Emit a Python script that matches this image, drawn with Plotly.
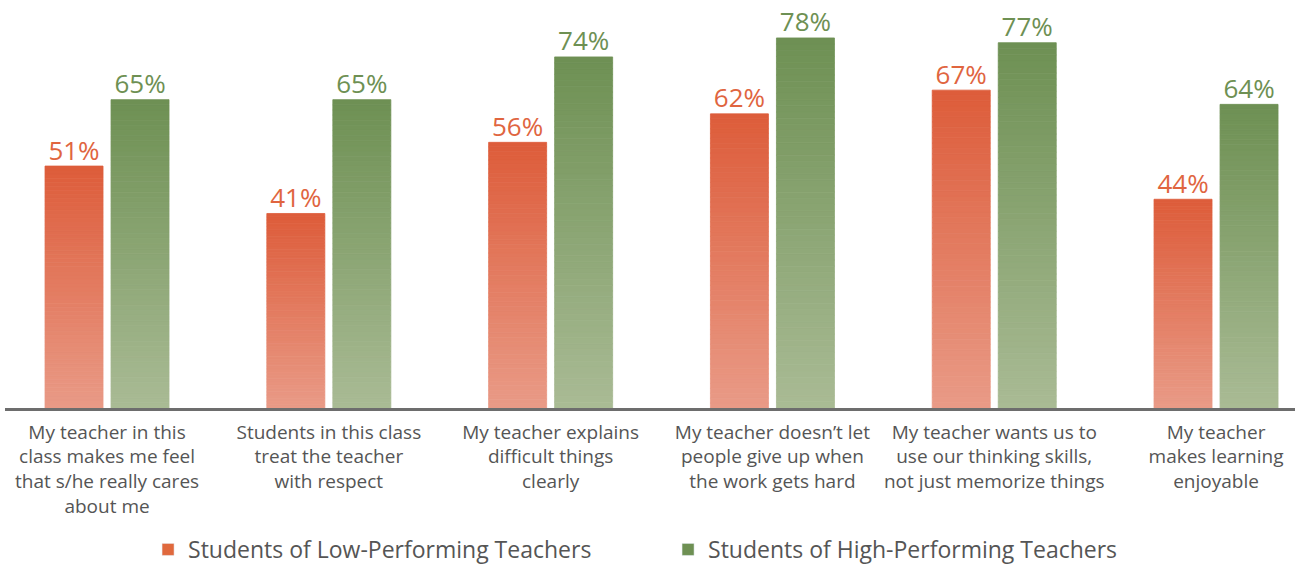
import plotly.graph_objects as go

categories = [
    "My teacher in this<br>class makes me feel<br>that s/he really cares<br>about me",
    "Students in this class<br>treat the teacher<br>with respect",
    "My teacher explains<br>difficult things<br>clearly",
    "My teacher doesn’t let<br>people give up when<br>the work gets hard",
    "My teacher wants us to<br>use our thinking skills,<br>not just memorize things",
    "My teacher<br>makes learning<br>enjoyable",
]
low_values = [51, 41, 56, 62, 67, 44]
high_values = [65, 65, 74, 78, 77, 64]
series_names = ["Students of Low-Performing Teachers", "Students of High-Performing Teachers"]

LOW_TOP, LOW_BOT = (221, 92, 58), (233, 155, 135)
HIGH_TOP, HIGH_BOT = (110, 144, 83), (169, 187, 149)
LOW_LABEL, HIGH_LABEL = "#E0653F", "#6E9053"
FONT = "Open Sans"

N_SEG = 60
xs = list(range(len(categories)))
BAR_W = 0.2615
HALF = 0.1488


def mix(c1, c2, t):
    return "rgb(%d,%d,%d)" % tuple(round(a + (b - a) * t) for a, b in zip(c1, c2))


fig = go.Figure()

for vals, top, bot, off in [
    (low_values, LOW_TOP, LOW_BOT, -HALF - BAR_W / 2),
    (high_values, HIGH_TOP, HIGH_BOT, HALF - BAR_W / 2),
]:
    for i in range(N_SEG):
        t = (i + 0.5) / N_SEG
        c = mix(bot, top, t)
        fig.add_trace(go.Bar(
            x=xs,
            y=[v / N_SEG for v in vals],
            base=[v * i / N_SEG for v in vals],
            width=BAR_W,
            offset=off,
            marker=dict(color=c, line=dict(width=0.8, color=c)),
            showlegend=False,
            hoverinfo="skip",
        ))

# value labels
for vals, col, sgn in [(low_values, LOW_LABEL, -1), (high_values, HIGH_LABEL, 1)]:
    fig.add_trace(go.Scatter(
        x=[x + sgn * HALF for x in xs],
        y=vals,
        mode="text",
        text=[f"{v}%" for v in vals],
        textposition="top center",
        textfont=dict(size=26, color=col, family=FONT),
        showlegend=False,
        hoverinfo="skip",
        cliponaxis=False,
    ))

# legend entries
for name, col in zip(series_names, ["#E0693D", "#6E9053"]):
    fig.add_trace(go.Bar(x=[None], y=[None], name=name, marker_color=col))

fig.update_layout(
    width=1295,
    height=571,
    barmode="overlay",
    plot_bgcolor="white",
    paper_bgcolor="white",
    margin=dict(l=5, r=0, t=0, b=162),
    font=dict(family=FONT, color="#555555"),
    legend=dict(
        orientation="h",
        x=0.514, xanchor="center",
        y=-0.348, yanchor="middle",
        font=dict(size=23, color="#555555", family=FONT),
        entrywidth=475,
        itemclick=False,
    ),
    xaxis=dict(
        range=[-0.46, 5.356],
        tickmode="array",
        tickvals=xs,
        ticktext=categories,
        tickfont=dict(size=19, color="#555555", family=FONT),
        showgrid=False,
        zeroline=False,
        showline=True,
        linecolor="#6d6d6d",
        linewidth=2.5,
        ticks="outside",
        ticklen=5,
        tickcolor="rgba(0,0,0,0)",
        fixedrange=True,
    ),
    yaxis=dict(
        range=[0, 86],
        visible=False,
        showgrid=False,
        zeroline=False,
        fixedrange=True,
    ),
)

fig.write_html(
    "out.html",
    config={"displayModeBar": False},
    post_script="document.body.style.margin='0';",
)
